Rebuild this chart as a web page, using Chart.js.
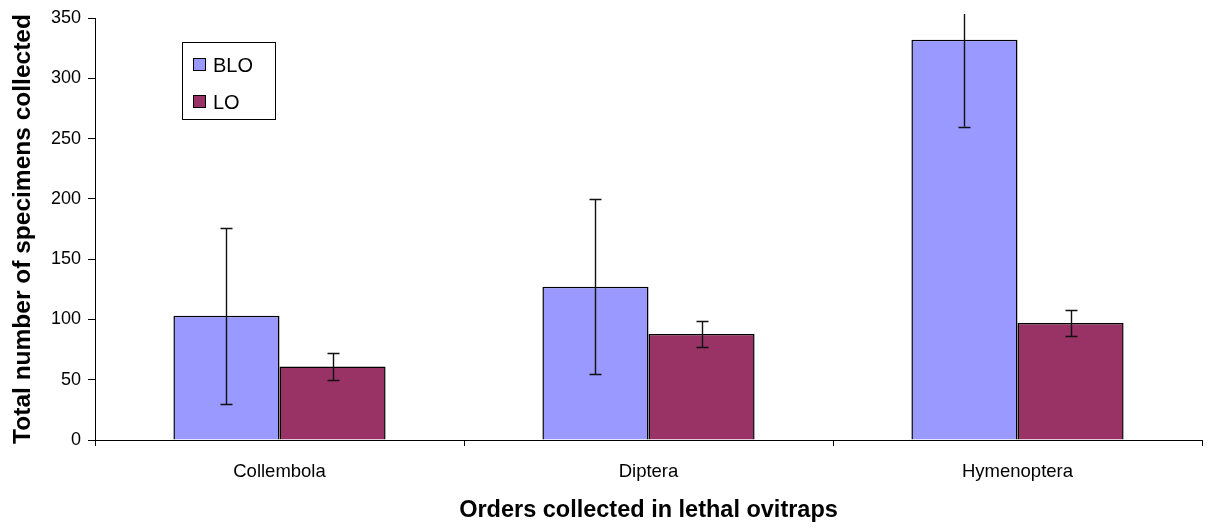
<!DOCTYPE html>
<html><head><meta charset="utf-8">
<script src="https://cdn.jsdelivr.net/npm/chart.js@4"></script>
<style>html,body{margin:0;padding:0;background:#fff}#wrap{width:1209px;height:528px}</style>
</head><body><div id="wrap"><canvas id="c" width="1209" height="528"></canvas></div>
<script>
const categories = ["Collembola", "Diptera", "Hymenoptera"];
const seriesNames = ["BLO", "LO"];
const valuesBLO = [103, 127, 332];
const valuesLO = [61, 88, 97];
const errBLO = [73, 72.5, 72];
const errLO = [11, 11, 11];
const yTicks = [0, 50, 100, 150, 200, 250, 300, 350];

const errors = [errBLO, errLO];
const FONT = "'Liberation Sans', Arial, sans-serif";

const errorBarPlugin = {
  id: 'errorBars',
  afterDatasetsDraw(chart) {
    const ctx = chart.ctx, y = chart.scales.y, area = chart.chartArea;
    ctx.save();
    ctx.beginPath();
    ctx.rect(0, area.top - 4, chart.width, area.bottom - area.top + 8);
    ctx.clip();
    ctx.strokeStyle = '#111';
    ctx.lineWidth = 1.4;
    chart.data.datasets.forEach((ds, di) => {
      const meta = chart.getDatasetMeta(di);
      meta.data.forEach((bar, i) => {
        const v = ds.data[i], e = errors[di][i];
        const x = Math.round(bar.x) + 0.5;
        const yt = y.getPixelForValue(v + e), yb = y.getPixelForValue(v - e);
        ctx.beginPath();
        ctx.moveTo(x, yt); ctx.lineTo(x, yb);
        ctx.moveTo(x - 6, Math.round(yt) + 0.5); ctx.lineTo(x + 6, Math.round(yt) + 0.5);
        ctx.moveTo(x - 6, Math.round(yb) + 0.5); ctx.lineTo(x + 6, Math.round(yb) + 0.5);
        ctx.stroke();
      });
    });
    ctx.restore();
  }
};

const legendPlugin = {
  id: 'boxLegend',
  afterDraw(chart) {
    const ctx = chart.ctx;
    const bx = 182.5, by = 42.5, bw = 93, bh = 77;
    ctx.save();
    ctx.fillStyle = '#fff';
    ctx.fillRect(bx, by, bw, bh);
    ctx.strokeStyle = '#000'; ctx.lineWidth = 1;
    ctx.strokeRect(bx, by, bw, bh);
    ctx.font = '20px ' + FONT;
    ctx.textBaseline = 'middle';
    chart.data.datasets.forEach((ds, i) => {
      const cy = 65 + i * 37;
      ctx.fillStyle = ds.backgroundColor;
      ctx.fillRect(193.5, cy - 6.5, 12, 12);
      ctx.strokeRect(193.5, cy - 6.5, 12, 12);
      ctx.fillStyle = '#000';
      ctx.fillText(ds.label, 213, cy + 1);
    });
    ctx.restore();
  }
};

new Chart(document.getElementById('c'), {
  type: 'bar',
  data: {
    labels: categories,
    datasets: [
      { label: seriesNames[0], data: valuesBLO, backgroundColor: '#9999FF', borderColor: '#000', borderWidth: 1.5, categoryPercentage: 0.575, barPercentage: 1.0 },
      { label: seriesNames[1], data: valuesLO, backgroundColor: '#993366', borderColor: '#000', borderWidth: 1.5, categoryPercentage: 0.575, barPercentage: 1.0 }
    ]
  },
  options: {
    responsive: false,
    animation: false,
    devicePixelRatio: 1,
    layout: { padding: { top: 18, right: 7, bottom: 3, left: 0 } },
    plugins: { legend: { display: false }, tooltip: { enabled: false } },
    scales: {
      x: {
        grid: { display: true, offset: true, drawOnChartArea: false, tickLength: 6, color: '#000', lineWidth: 1 },
        border: { display: true, color: '#000', width: 1 },
        ticks: { color: '#000', font: { family: FONT, size: 18.5 }, padding: 15 },
        title: { display: true, text: 'Orders collected in lethal ovitraps', color: '#000', font: { family: FONT, size: 23.5, weight: 'bold' }, padding: { top: 0, bottom: 0 } },
        afterFit(s) { s.height = 528 - 440 - 3; }
      },
      y: {
        min: 0, max: 350,
        afterBuildTicks(s) { s.ticks = yTicks.map(v => ({ value: v })); },
        grid: { display: true, drawOnChartArea: false, tickLength: 7, color: '#000', lineWidth: 1 },
        border: { display: true, color: '#000', width: 1 },
        ticks: { color: '#000', font: { family: FONT, size: 18 }, padding: 7 },
        title: { display: true, text: 'Total number of specimens collected', color: '#000', font: { family: FONT, size: 24.5, weight: 'bold' }, padding: { top: 9, bottom: 0 } },
        afterFit(s) { s.width = 95; }
      }
    }
  },
  plugins: [errorBarPlugin, legendPlugin]
});
</script>
</body></html>
